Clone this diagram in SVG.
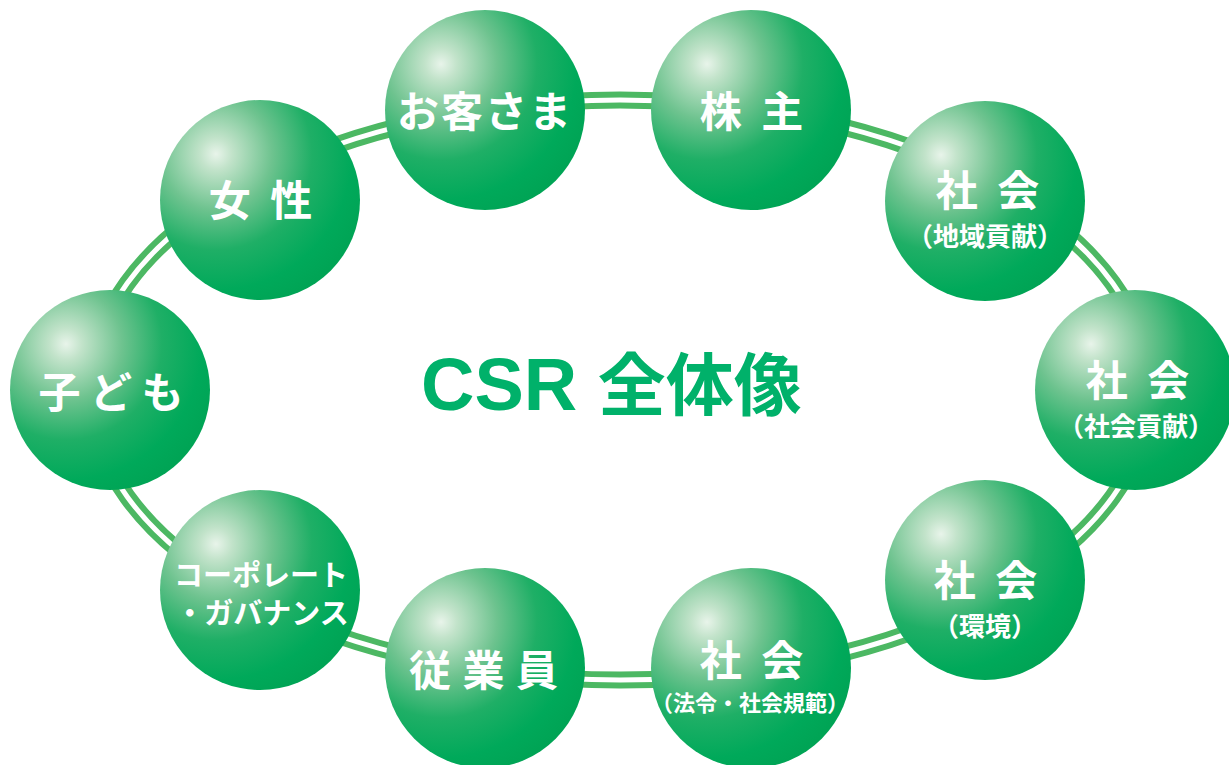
<svg xmlns="http://www.w3.org/2000/svg" width="1229" height="765" viewBox="0 0 1229 765">
<defs>
<radialGradient id="ball" cx="0.28" cy="0.27" r="0.8" fx="0.28" fy="0.27">
<stop offset="0" stop-color="#e8f4ea"/>
<stop offset="0.1" stop-color="#c2e3ca"/>
<stop offset="0.35" stop-color="#6ec38f"/>
<stop offset="0.6" stop-color="#1faf66"/>
<stop offset="0.85" stop-color="#00a95a"/>
<stop offset="1" stop-color="#00a455"/>
</radialGradient>
<style>
.ball{fill:url(#ball);}
.lbl{font-family:"Noto Sans CJK JP","Noto Sans CJK SC",sans-serif;font-weight:700;fill:#ffffff;text-anchor:middle;}
.big{font-size:42px;}
.sp{letter-spacing:5px;}
.mid{font-size:29px;}
.title{font-family:"Liberation Sans","Noto Sans CJK JP",sans-serif;font-weight:700;font-size:74px;fill:#00b16a;}
</style>
</defs>
<rect width="1229" height="765" fill="#ffffff"/>
<g id="connectors">
<ellipse cx="620" cy="390" rx="530" ry="290" fill="none" stroke="#4cb863" stroke-width="17"/>
<ellipse cx="620" cy="390" rx="530" ry="290" fill="none" stroke="#ffffff" stroke-width="5"/>
</g>
<g id="okyakusama">
<circle class="ball" cx="485" cy="110" r="100"/>
<text class="lbl big" x="485" y="127" letter-spacing="2">お客さま</text>
</g>
<g id="kabunushi">
<circle class="ball" cx="751" cy="110" r="100"/>
<text class="lbl big sp" x="754" y="127">株 主</text>
</g>
<g id="shakai-chiiki">
<circle class="ball" cx="985" cy="201" r="100"/>
<text class="lbl big sp" x="990" y="206">社 会</text>
<text class="lbl" style="font-size:26px" x="985" y="246">（地域貢献）</text>
</g>
<g id="shakai-koken">
<circle class="ball" cx="1135" cy="390" r="100"/>
<text class="lbl big sp" x="1140" y="396">社 会</text>
<text class="lbl" style="font-size:26px" x="1136" y="436">（社会貢献）</text>
</g>
<g id="shakai-kankyo">
<circle class="ball" cx="985" cy="580" r="100"/>
<text class="lbl big sp" x="988" y="596">社 会</text>
<text class="lbl" style="font-size:26px" x="985" y="636">（環境）</text>
</g>
<g id="shakai-horei">
<circle class="ball" cx="751" cy="668" r="100"/>
<text class="lbl big sp" x="754" y="676">社 会</text>
<text class="lbl" style="font-size:22px" x="750" y="711">（法令・社会規範）</text>
</g>
<g id="jugyoin">
<circle class="ball" cx="485" cy="668" r="100"/>
<text class="lbl big" x="484" y="686" letter-spacing="1">従 業 員</text>
</g>
<g id="governance">
<circle class="ball" cx="260" cy="590" r="100"/>
<text class="lbl mid" x="261" y="586">コーポレート</text>
<text class="lbl mid" x="262" y="624">・ガバナンス</text>
</g>
<g id="kodomo">
<circle class="ball" cx="110" cy="390" r="100"/>
<text class="lbl big" x="111" y="408">子 ど も</text>
</g>
<g id="josei">
<circle class="ball" cx="260" cy="200" r="100"/>
<text class="lbl big sp" x="263" y="216">女 性</text>
</g>
<g id="title">
<text class="title" x="421" y="410">CSR <tspan style="font-family:'Noto Sans CJK JP',sans-serif;font-size:68px">全体像</tspan></text>
</g>
</svg>
